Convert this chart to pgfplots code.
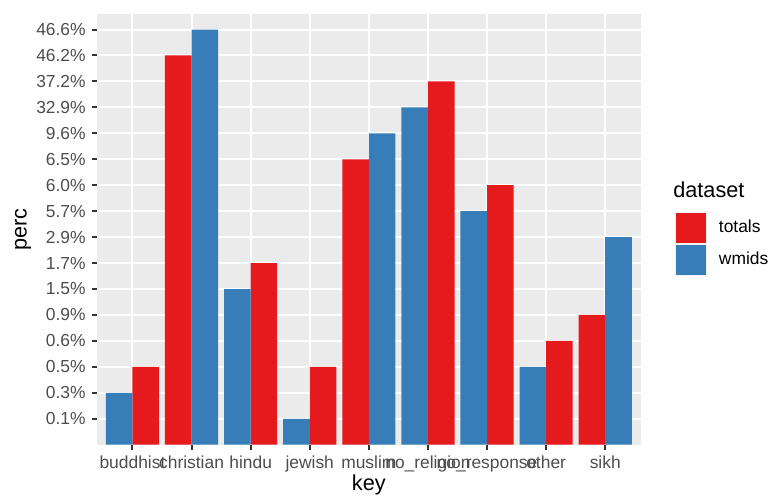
\documentclass[border=0pt]{standalone}
\usepackage{pgfplots}
\pgfplotsset{compat=1.18}
\usepackage{fontspec}
\setmainfont{Liberation Sans}
\definecolor{setred}{HTML}{E41A1C}
\definecolor{setblue}{HTML}{377EB8}
\definecolor{panelbg}{HTML}{EBEBEB}
\definecolor{grey30}{HTML}{4D4D4D}
\definecolor{grey20}{HTML}{333333}
\definecolor{grey95}{HTML}{F2F2F2}
\begin{document}
\begin{tikzpicture}[x=0.54pt,y=0.54pt]
\path[use as bounding box] (-97,-50.3) rectangle (673,444.7);
\begin{axis}[
  at={(0,0)}, anchor=south west,
  scale only axis, width=293.6pt, height=232.6pt,
  clip mode=individual,
  xmin=0.4, xmax=9.6, ymin=0, ymax=16.6,
  axis background/.style={fill=panelbg},
  axis line style={draw=none},
  tick pos=left, tick align=outside,
  major tick length=2.75pt,
  tick style={grey20, line width=1.07pt},
  grid=major, major grid style={white, line width=1.07pt},
  xtick={1,...,9},
  xticklabels={buddhist,christian,hindu,jewish,muslim,no\_religion,no\_response,other,sikh},
  ytick={1,...,16},
  yticklabels={0.1\%,0.3\%,0.5\%,0.6\%,0.9\%,1.5\%,1.7\%,2.9\%,5.7\%,6.0\%,6.5\%,9.6\%,32.9\%,37.2\%,46.2\%,46.6\%},
  ticklabel style={font=\fontsize{9.4}{11}\selectfont, text=grey30, inner sep=0pt},
  xticklabel style={anchor=base, yshift=-10pt},
  yticklabel style={anchor=east, xshift=-3.2pt},
  xlabel={key},
  xlabel style={at={(axis description cs:0.5,-0.107)}, anchor=base, font=\fontsize{11.7}{14}\selectfont, inner sep=0pt},
  ylabel={perc},
  ylabel style={at={(axis description cs:-0.136,0.5)}, anchor=center, font=\fontsize{11.7}{14}\selectfont, inner sep=0pt},
  legend style={at={(axis description cs:1.0625,0.541)}, anchor=north west, draw=none, fill=none,
    inner sep=0pt, outer sep=0pt, row sep=0pt, font=\fontsize{9.4}{11}\selectfont,
    nodes={inner sep=0pt, text=black},
    /tikz/every odd column/.append style={column sep=6.5pt}},
  legend cell align=left,
  legend image code/.code={
    \fill[grey95] (0pt,-8.7pt) rectangle (17.4pt,8.7pt);
    \fill[#1] (0.6pt,-8.1pt) rectangle (16.8pt,8.1pt);
  },
]
\addplot[ybar, bar width=0.45, bar shift=0pt, fill=setred, draw=none] coordinates {
  (1.225,3) (1.775,15) (3.225,7) (4.225,3) (4.775,11) (6.225,14) (7.225,10) (8.225,4) (8.775,5)
};
\addlegendentry{totals}
\addplot[ybar, bar width=0.45, bar shift=0pt, fill=setblue, draw=none] coordinates {
  (0.775,2) (2.225,16) (2.775,6) (3.775,1) (5.225,12) (5.775,13) (6.775,9) (7.775,3) (9.225,8)
};
\addlegendentry{wmids}
\node[anchor=base west, font=\fontsize{11.7}{14}\selectfont, inner sep=0pt] at (axis description cs:1.0594,0.575) {dataset};
\end{axis}
\end{tikzpicture}
\end{document}
